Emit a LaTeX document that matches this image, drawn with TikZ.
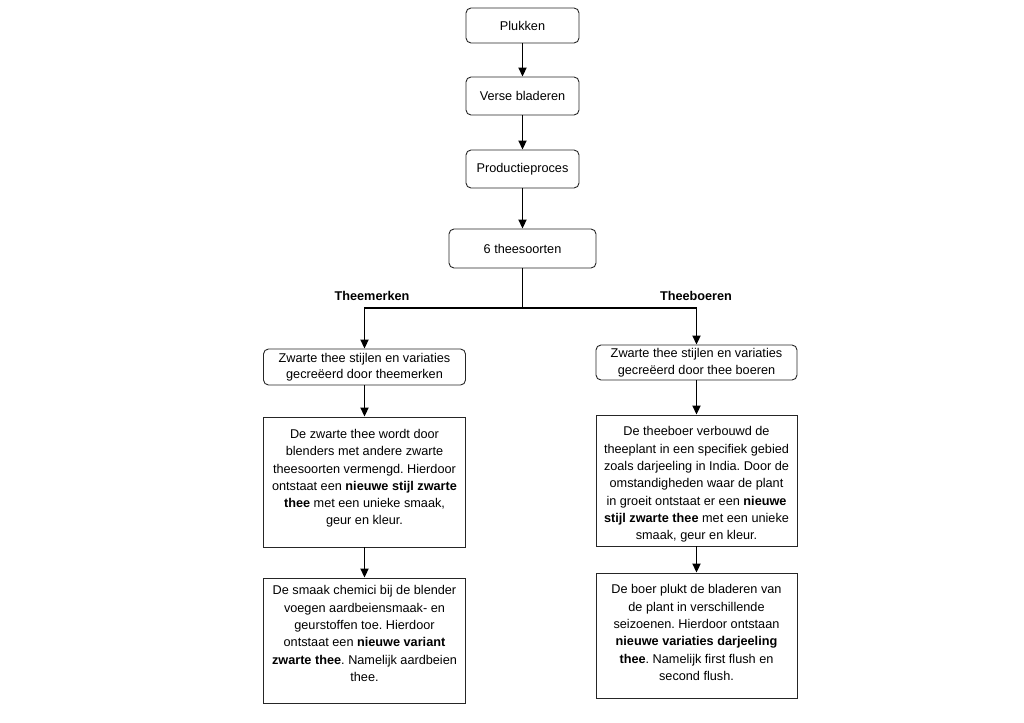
\documentclass[tikz,border=0pt]{standalone}
\usepackage{fontspec}
\setmainfont{Liberation Sans}
\usetikzlibrary{arrows.meta}
\frenchspacing
\begin{document}
\begin{tikzpicture}[x=1pt,y=-1pt,
  rbox/.style={draw=black!85, line width=0.9pt, rounded corners=5pt, inner sep=0pt, align=center, font=\fontsize{12.7}{16.5}\selectfont},
  sbox/.style={draw=black!85, line width=0.9pt, inner sep=0pt},
  txt/.style={align=center, font=\fontsize{12.7}{17.3}\selectfont, inner sep=0pt, anchor=north},
  conn/.style={line width=1.9pt, -{Triangle[length=9pt,width=8pt]}},
  plain/.style={line width=1.9pt},
  lab/.style={font=\fontsize{12.7}{15}\selectfont\bfseries, inner sep=0pt}]
\path[use as bounding box] (0,0) rectangle (1024,722);

% top chain
\node[rbox, minimum width=113pt, minimum height=35pt] (p) at (522.5,25.5) {Plukken};
\node[rbox, minimum width=113pt, minimum height=38pt] (v) at (522.5,96) {Verse bladeren};
\node[rbox, minimum width=113pt, minimum height=38pt] (pp) at (522.5,169) {Productieproces};
\node[rbox, minimum width=147pt, minimum height=39pt] (s) at (522.5,248.5) {6 theesoorten};

% branch labels
\node[lab] (tm) at (372,296) {Theemerken};
\node[lab] (tb) at (696,296) {Theeboeren};

% left column
\node[rbox, minimum width=202pt, minimum height=36pt] (l1) at (364.5,367) {Zwarte thee stijlen en variaties\\gecreëerd door theemerken};
\node[sbox, minimum width=202pt, minimum height=130pt] (l2) at (364.5,482) {};
\node[txt] (l2t) at (364.5,429) {De zwarte thee wordt door\\
blenders met andere zwarte\\
theesoorten vermengd. Hierdoor\\
ontstaat een \textbf{nieuwe stijl zwarte}\\
\textbf{thee} met een unieke smaak,\\
geur en kleur.};
\node[sbox, minimum width=202pt, minimum height=125pt] (l3) at (364.5,640.5) {};
\node[txt] (l3t) at (364.5,585.5) {De smaak chemici bij de blender\\
voegen aardbeiensmaak- en\\
geurstoffen toe. Hierdoor\\
ontstaat een \textbf{nieuwe variant}\\
\textbf{zwarte thee}. Namelijk aardbeien\\
thee.};

% right column
\node[rbox, minimum width=201pt, minimum height=35pt] (r1) at (696.5,362.5) {Zwarte thee stijlen en variaties\\gecreëerd door thee boeren};
\node[sbox, minimum width=201pt, minimum height=131pt] (r2) at (696.5,480.5) {};
\node[txt] (r2t) at (696.5,426.5) {De theeboer verbouwd de\\
theeplant in een specifiek gebied\\
zoals darjeeling in India. Door de\\
omstandigheden waar de plant\\
in groeit ontstaat er een \textbf{nieuwe}\\
\textbf{stijl zwarte thee} met een unieke\\
smaak, geur en kleur.};
\node[sbox, minimum width=201pt, minimum height=125pt] (r3) at (696.5,635.5) {};
\node[txt] (r3t) at (696.5,584.5) {De boer plukt de bladeren van\\
de plant in verschillende\\
seizoenen. Hierdoor ontstaan\\
\textbf{nieuwe variaties darjeeling}\\
\textbf{thee}. Namelijk first flush en\\
second flush.};

% connectors
\coordinate (j) at (522.5,308);
\draw[conn] (p) -- (v);
\draw[conn] (v) -- (pp);
\draw[conn] (pp) -- (s);
\draw[plain] (s.south) -- (j);
\draw[conn] (j) -| (l1.north);
\draw[conn] (j) -| (r1.north);
\draw[conn] (l1) -- (l2);
\draw[conn] (l2) -- (l3);
\draw[conn] (r1) -- (r2);
\draw[conn] (r2) -- (r3);
\end{tikzpicture}
\end{document}
